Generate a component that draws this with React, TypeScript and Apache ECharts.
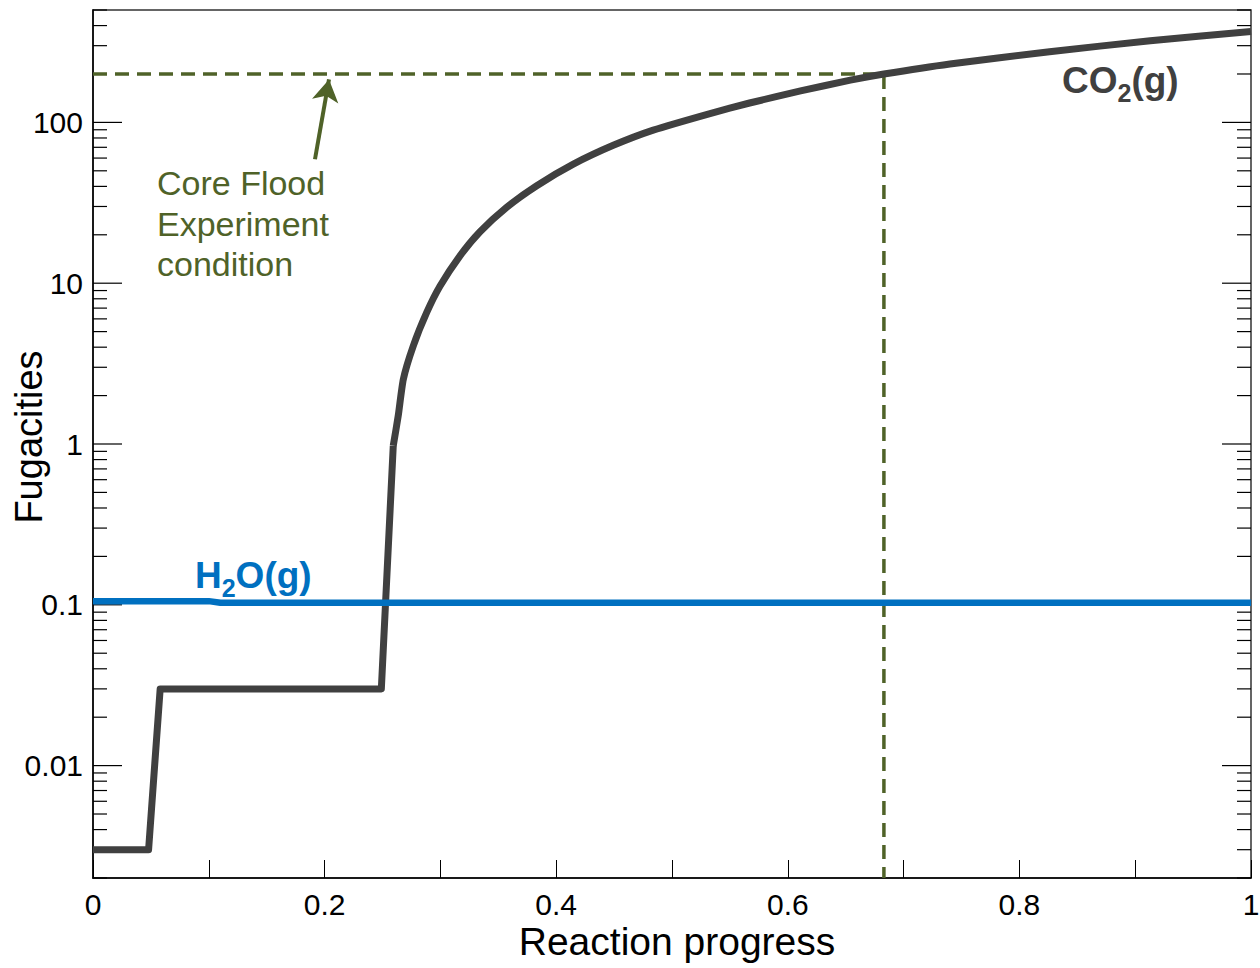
import React, { useEffect, useRef } from "react";
import * as echarts from "echarts";

const stepX = [0, 0.048, 0.058, 0.249, 0.2593];
const stepY = [0.003, 0.003, 0.03, 0.03, 0.976];
const riseX = [0.2593, 0.2636, 0.268, 0.2766, 0.2882, 0.2997, 0.3169, 0.3342, 0.3573, 0.3832, 0.4148, 0.4493, 0.4838, 0.5328, 0.567, 0.611, 0.654, 0.683, 0.74, 0.826, 0.913, 1.0];
const riseY = [0.976, 1.5, 2.53, 4.08, 6.58, 9.6, 14.8, 20.9, 29.7, 40.4, 55.0, 72, 89.5, 113.5, 132, 157, 183, 200, 231, 275, 322, 367];
const h2oX = [0, 0.1, 0.11, 1.0];
const h2oY = [0.1054, 0.1054, 0.1029, 0.1029];
const conditionX = 0.683;
const conditionY = 200;
const arrowFrom = [0.1917, 59];
const arrowTo = [0.2038, 185];
const yMin = 0.002;
const yMax = 500;
const decades = [-3, -2, -1, 0, 1, 2];
const mantissas = [1, 2, 3, 4, 5, 6, 7, 8, 9];

const GREEN = "#4F6228";
const GRAY = "#404040";
const BLUE = "#0070C0";
const FONT = "'Liberation Sans', Arial, sans-serif";

function formula(parts: [string, string, string], firstWidthEm: number, x: number, baseline: number, color: string) {
  const big = 37;
  const small = 25;
  const w0 = firstWidthEm * big;
  const w1 = 0.556 * small;
  const base = { fontFamily: FONT, fontWeight: "bold", fill: color, verticalAlign: "middle", align: "left" };
  return [
    { type: "text", x, y: baseline - 0.35 * big, z: 10, style: { ...base, text: parts[0], fontSize: big } },
    { type: "text", x: x + w0, y: baseline + 9 - 0.35 * small, z: 10, style: { ...base, text: parts[1], fontSize: small } },
    { type: "text", x: x + w0 + w1, y: baseline - 0.35 * big, z: 10, style: { ...base, text: parts[2], fontSize: big } },
  ];
}

export default function App() {
  const ref = useRef<HTMLDivElement>(null);
  useEffect(() => {
    document.body.style.margin = "0";
    const chart = echarts.init(ref.current!, null, { renderer: "svg" });
    const tickData: number[][] = [];
    decades.forEach((d) => {
      mantissas.forEach((m) => {
        const v = m * Math.pow(10, d);
        if (v >= yMin * 0.999 && v <= yMax * 1.001) tickData.push([0, v, m === 1 ? 1 : 0]);
      });
    });
    const steps = stepX.map((x, i) => [x, stepY[i]]);
    const rise = riseX.map((x, i) => [x, riseY[i]]);
    const h2o = h2oX.map((x, i) => [x, h2oY[i]]);
    const dashed = [
      [0, conditionY],
      [conditionX, conditionY],
      [conditionX, yMin],
    ];
    chart.setOption({
      animation: false,
      grid: {
        left: 93,
        right: 9,
        top: 10,
        bottom: 90,
        show: true,
        borderColor: "#333",
        borderWidth: 1.5,
        containLabel: false,
        outerBoundsMode: "none",
      },
      xAxis: {
        type: "value",
        min: 0,
        max: 1,
        interval: 0.1,
        name: "Reaction progress",
        nameLocation: "middle",
        nameGap: 44,
        nameMoveOverlap: false,
        nameTextStyle: { fontSize: 39, color: "#000", fontFamily: FONT, padding: [0, 0, 0, 10] },
        axisLine: { show: true, lineStyle: { color: "#000", width: 1.5 } },
        axisTick: { show: true, inside: true, length: 18, lineStyle: { color: "#000", width: 1 } },
        axisLabel: {
          fontSize: 30,
          color: "#000",
          fontFamily: FONT,
          margin: 11,
          formatter: (v: number) => {
            const k = Math.round(v * 10);
            return k % 2 === 0 ? String(k / 10) : "";
          },
        },
        splitLine: { show: false },
      },
      yAxis: {
        type: "log",
        logBase: 10,
        min: yMin,
        max: yMax,
        axisLine: { show: true, lineStyle: { color: "#000", width: 1.5 } },
        axisTick: { show: false },
        axisLabel: {
          fontSize: 30,
          color: "#000",
          fontFamily: FONT,
          margin: 10,
          formatter: (v: number) => {
            const l = Math.log10(v);
            const r = Math.round(l);
            if (Math.abs(l - r) > 1e-6) return "";
            return String(Number(Math.pow(10, r).toPrecision(1)));
          },
        },
        splitLine: { show: false },
      },
      series: [
        {
          type: "custom",
          silent: true,
          clip: false,
          data: tickData,
          z: 1,
          renderItem: (_p: any, api: any) => {
            const v = api.value(1);
            const major = api.value(2) === 1;
            const l = api.coord([0, v]);
            const r = api.coord([1, v]);
            const len = major ? 29 : 14;
            return {
              type: "group",
              children: [
                { type: "line", shape: { x1: l[0], y1: l[1], x2: l[0] + len, y2: l[1] }, style: { stroke: "#000", lineWidth: 1.2 } },
                { type: "line", shape: { x1: r[0] - len, y1: r[1], x2: r[0], y2: r[1] }, style: { stroke: "#000", lineWidth: 1.2 } },
              ],
            };
          },
        },
        {
          type: "line",
          data: dashed,
          symbol: "none",
          z: 2,
          lineStyle: { color: GREEN, width: 3.5, type: [14, 8] },
          markLine: {
            silent: true,
            symbol: ["none", "arrow"],
            symbolSize: [20, 22],
            label: { show: false },
            lineStyle: { color: GREEN, width: 4, type: "solid" },
            data: [[{ coord: arrowFrom }, { coord: arrowTo }]],
          },
        },
        {
          type: "line",
          data: steps,
          symbol: "none",
          z: 3,
          lineStyle: { color: GRAY, width: 7, join: "round" },
        },
        {
          type: "line",
          data: rise,
          symbol: "none",
          smooth: 0.2,
          z: 3,
          lineStyle: { color: GRAY, width: 7, join: "round" },
        },
        {
          type: "line",
          data: h2o,
          symbol: "none",
          z: 4,
          lineStyle: { color: BLUE, width: 6.5 },
        },
      ],
      graphic: [
        ...formula(["CO", "2", "(g)"], 1.5, 1062, 93, GRAY),
        ...formula(["H", "2", "O(g)"], 0.722, 195, 588, BLUE),
        {
          type: "text",
          x: 29,
          y: 437,
          rotation: Math.PI / 2,
          style: { text: "Fugacities", fontSize: 38, fontFamily: FONT, fill: "#000", align: "center", verticalAlign: "middle" },
        },
        { type: "text", x: 157, y: 183, z: 10, style: { text: "Core Flood", fontSize: 34, fontFamily: FONT, fill: GREEN, verticalAlign: "middle" } },
        { type: "text", x: 157, y: 224, z: 10, style: { text: "Experiment", fontSize: 34, fontFamily: FONT, fill: GREEN, verticalAlign: "middle" } },
        { type: "text", x: 157, y: 264, z: 10, style: { text: "condition", fontSize: 34, fontFamily: FONT, fill: GREEN, verticalAlign: "middle" } },
      ],
    });
    return () => chart.dispose();
  }, []);
  return <div ref={ref} style={{ width: 1260, height: 968 }} />;
}
